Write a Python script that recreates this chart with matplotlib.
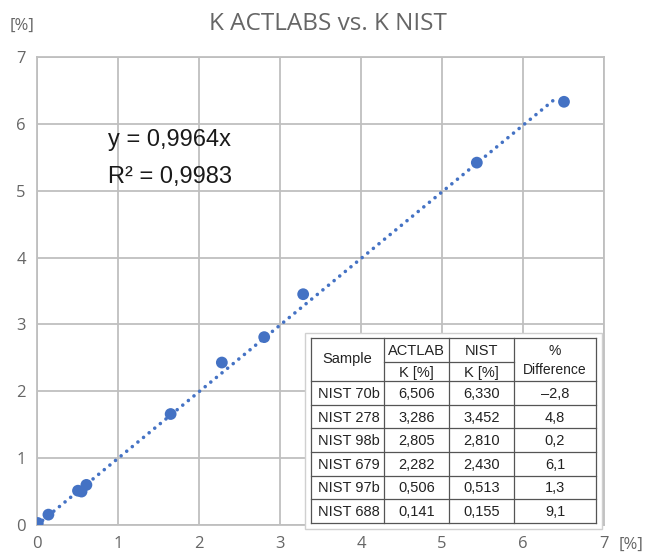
import matplotlib
matplotlib.use("Agg")
import matplotlib.pyplot as plt
import numpy as np
from matplotlib.patches import Rectangle

# Data (ACTLABS K [%] vs NIST K [%])
actlabs = [0.01, 0.141, 0.506, 0.55, 0.61, 1.65, 2.282, 2.805, 3.286, 5.43, 6.506]
nist = [0.03, 0.155, 0.513, 0.50, 0.60, 1.66, 2.430, 2.810, 3.452, 5.42, 6.330]
slope = 0.9964
trend_end = 6.43
r2_text = "R² = 0,9983"
eq_text = "y = 0,9964x"

ticks = [0, 1, 2, 3, 4, 5, 6, 7]

table_samples = ["NIST 70b", "NIST 278", "NIST 98b", "NIST 679", "NIST 97b", "NIST 688"]
table_actlab = ["6,506", "3,286", "2,805", "2,282", "0,506", "0,141"]
table_nist = ["6,330", "3,452", "2,810", "2,430", "0,513", "0,155"]
table_diff = ["\u20132,8", "4,8", "0,2", "6,1", "1,3", "9,1"]

blue = "#4472C4"
grey_text = "#666666"
grid_c = "#BFBFBF"
ui_font = "Open Sans"
tab_font = "Liberation Sans"

fig = plt.figure(figsize=(6.47, 5.55), dpi=100)
W, H = 647, 555
ax = fig.add_axes([37 / W, 1 - 525 / H, (604 - 37) / W, (525 - 57) / H])
ax.set_xlim(0, 7)
ax.set_ylim(0, 7)
ax.set_xticks(ticks)
ax.set_yticks(ticks)
ax.grid(True, color=grid_c, linewidth=1.3)
ax.set_axisbelow(True)
for s in ax.spines.values():
    s.set_color(grid_c)
    s.set_linewidth(1.3)
ax.tick_params(length=0, colors=grey_text, labelsize=12, pad=8)
for lab in ax.get_xticklabels() + ax.get_yticklabels():
    lab.set_fontfamily(ui_font)

# trendline
xt = np.array([0, trend_end])
ax.plot(xt, slope * xt, linestyle=(0, (0.01, 2.0)), color=blue, linewidth=2.6,
        dash_capstyle="round", zorder=3)
ax.scatter(actlabs, nist, s=72, color=blue, zorder=4, edgecolors="none")

fig.text(108 / W, 1 - 140 / H, eq_text, fontsize=17, family=tab_font, color="#1a1a1a",
         va="center", ha="left")
fig.text(108 / W, 1 - 177 / H, r2_text, fontsize=17, family=tab_font, color="#1a1a1a",
         va="center", ha="left")

fig.text(328 / W, 1 - 24 / H, "K ACTLABS vs. K NIST", fontsize=17.5, family=ui_font,
         color=grey_text, ha="center", va="center")
fig.text(22 / W, 1 - 26 / H, "[%]", fontsize=12, family=ui_font, color=grey_text,
         ha="center", va="center")
fig.text(631 / W, 1 - 545 / H, "[%]", fontsize=12, family=ui_font, color=grey_text,
         ha="center", va="center")

# Table (in figure pixel-based coordinates)
def fx(px):
    return px / W

def fy(py):
    return 1 - py / H

cols = [311, 384, 449, 514, 596]
top, mid, hb = 338, 362, 381
rowh = (523 - 381) / 6
rows = [hb + i * rowh for i in range(7)]

bg = Rectangle((fx(305), fy(529)), fx(602) - fx(305), fy(333) - fy(529),
               transform=fig.transFigure, facecolor="white", edgecolor="#d0d0d0",
               linewidth=1.0, zorder=5)
fig.add_artist(bg)

lc = "#555555"
lw = 0.9
def hline(y, x0, x1):
    fig.add_artist(plt.Line2D([fx(x0), fx(x1)], [fy(y), fy(y)], transform=fig.transFigure,
                              color=lc, linewidth=lw, zorder=6))
def vline(x, y0, y1):
    fig.add_artist(plt.Line2D([fx(x), fx(x)], [fy(y0), fy(y1)], transform=fig.transFigure,
                              color=lc, linewidth=lw, zorder=6))

hline(top, cols[0], cols[-1])
hline(mid, cols[1], cols[3])
for r in rows:
    hline(r, cols[0], cols[-1])
for c in cols:
    vline(c, top, rows[-1])

tk = dict(transform=fig.transFigure, color="#222222", ha="center", va="center", zorder=7,
          family=tab_font)
fig.text(fx((cols[0] + cols[1]) / 2), fy((top + hb) / 2), "Sample", fontsize=10.5, **tk)
fig.text(fx((cols[1] + cols[2]) / 2), fy((top + mid) / 2 + 1), "ACTLAB", fontsize=10.5, **tk)
fig.text(fx((cols[2] + cols[3]) / 2), fy((top + mid) / 2 + 1), "NIST", fontsize=10.5, **tk)
fig.text(fx((cols[1] + cols[2]) / 2), fy((mid + hb) / 2 + 1), "K [%]", fontsize=10.5, **tk)
fig.text(fx((cols[2] + cols[3]) / 2), fy((mid + hb) / 2 + 1), "K [%]", fontsize=10.5, **tk)
fig.text(fx((cols[3] + cols[4]) / 2), fy(351), "%", fontsize=10, **tk)
fig.text(fx((cols[3] + cols[4]) / 2), fy(370), "Difference", fontsize=10, **tk)

for i in range(6):
    yc = fy((rows[i] + rows[i + 1]) / 2 + 1)
    fig.text(fx(cols[0] + 7), yc, table_samples[i], fontsize=10.5, transform=fig.transFigure,
             color="#222222", ha="left", va="center", zorder=7, family=tab_font)
    fig.text(fx((cols[1] + cols[2]) / 2), yc, table_actlab[i], fontsize=10.5, **tk)
    fig.text(fx((cols[2] + cols[3]) / 2), yc, table_nist[i], fontsize=10.5, **tk)
    fig.text(fx((cols[3] + cols[4]) / 2), yc, table_diff[i], fontsize=10.5, **tk)

fig.savefig("out.png", dpi=100, facecolor="white")
